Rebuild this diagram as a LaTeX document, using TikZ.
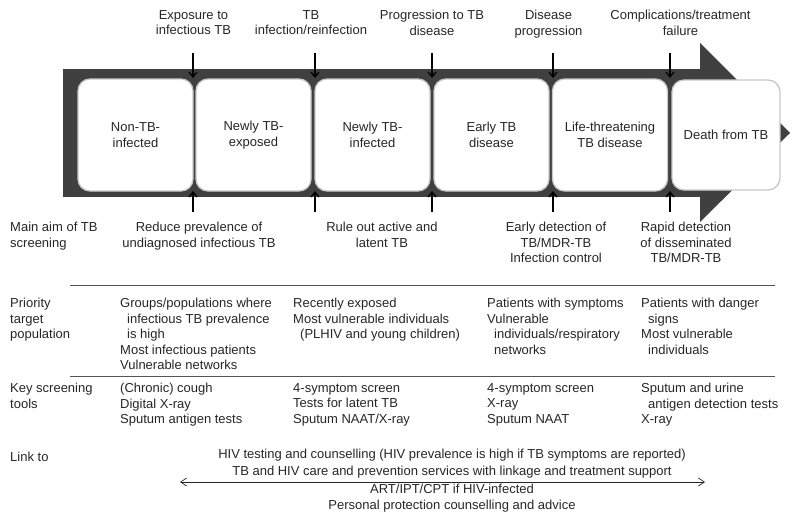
\documentclass[tikz,border=0pt]{standalone}
\usepackage{fontspec}
\setmainfont{Liberation Sans}
\usetikzlibrary{arrows.meta}
\definecolor{band}{HTML}{404040}
\definecolor{ink}{HTML}{262626}
\definecolor{rulec}{HTML}{555555}
\definecolor{boxline}{HTML}{C8C8C8}
\begin{document}
\begin{tikzpicture}[x=1pt,y=-1pt,
  every node/.style={font=\fontsize{13}{15.5}\selectfont, text=ink, inner sep=0pt},
  stage/.style={draw=boxline, line width=1.3pt, fill=white, rounded corners=12pt, align=center,
    minimum width=115pt, minimum height=112pt},
  lbl/.style={align=center, anchor=north, execute at begin node=\strut},
  lft/.style={align=left, anchor=north west, execute at begin node=\strut},
  arr/.style={-{Straight Barb[length=5pt,width=8pt]}, line width=1.3pt, draw=black},
  rulel/.style={draw=rulec, line width=0.8pt},
  dbl/.style={{Straight Barb[length=6pt,width=8pt]}-{Straight Barb[length=6pt,width=8pt]}, line width=0.7pt, draw=ink}
]
\useasboundingbox (0,0) rectangle (800,520);

% big arrow band
\fill[band] (63,69) rectangle (701,197);
\fill[band] (700,43) -- (790,133) -- (700,222) -- cycle;

% stage boxes
\node[stage] (b1) at (135.5,135) {Non-TB-\\infected};
\node[stage] (b2) at (253.5,135) {Newly TB-\\exposed};
\node[stage] (b3) at (372.5,135) {Newly TB-\\infected};
\node[stage] (b4) at (491.5,135) {Early TB\\disease};
\node[stage] (b5) at (610,135) {Life-threatening\\TB disease};
\node[stage, minimum width=108pt, minimum height=110pt] (b6) at (726,135) {Death from TB};

% top labels
\node[lbl] (t1) at (193.5,10) {Exposure to\\infectious TB};
\node[lbl] (t2) at (311,10) {TB\\infection/reinfection};
\node[lbl] (t3) at (432,10) {Progression to TB\\disease};
\node[lbl] (t4) at (548.5,10) {Disease\\progression};
\node[lbl] (t5) at (680.5,10) {Complications/treatment\\failure};

% down arrows
\coordinate (d1s) at (193,53); \coordinate (d1e) at (193,78);
\coordinate (d2s) at (315,53); \coordinate (d2e) at (315,78);
\coordinate (d3s) at (432,53); \coordinate (d3e) at (432,78);
\coordinate (d4s) at (553,53); \coordinate (d4e) at (553,78);
\coordinate (d5s) at (670,53); \coordinate (d5e) at (670,78);
\foreach \i in {1,...,5} {\draw[arr] (d\i s) -- (d\i e);}

% up arrows
\coordinate (u1s) at (193,212); \coordinate (u1e) at (193,191);
\coordinate (u2s) at (315,212); \coordinate (u2e) at (315,191);
\coordinate (u3s) at (432,212); \coordinate (u3e) at (432,191);
\coordinate (u4s) at (553,212); \coordinate (u4e) at (553,191);
\coordinate (u5s) at (670,212); \coordinate (u5e) at (670,191);
\foreach \i in {1,...,5} {\draw[arr] (u\i s) -- (u\i e);}

% main aim row
\node[lft] (h1) at (10,222) {Main aim of TB\\screening};
\node[lbl] (m1) at (199,222) {Reduce prevalence of\\undiagnosed infectious TB};
\node[lbl] (m2) at (382,222) {Rule out active and\\latent TB};
\node[lbl] (m3) at (556,222) {Early detection of\\TB/MDR-TB\\Infection control};
\node[lbl] (m4) at (686,222) {Rapid detection\\of disseminated\\TB/MDR-TB};

\coordinate (r1a) at (70,285); \coordinate (r1b) at (775,285);
\draw[rulel] (r1a) -- (r1b);

% priority target population
\node[lft] (h2) at (10,298) {Priority\\target\\population};
\node[lft] (p1) at (120,298) {Groups/populations where\\\hspace*{7pt}infectious TB prevalence\\\hspace*{7pt}is high\\Most infectious patients\\Vulnerable networks};
\node[lft] (p2) at (293,298) {Recently exposed\\Most vulnerable individuals\\\hspace*{7pt}(PLHIV and young children)};
\node[lft] (p3) at (487,298) {Patients with symptoms\\Vulnerable\\\hspace*{7pt}individuals/respiratory\\\hspace*{7pt}networks};
\node[lft] (p4) at (641,298) {Patients with danger\\\hspace*{7pt}signs\\Most vulnerable\\\hspace*{7pt}individuals};

\coordinate (r2a) at (70,376); \coordinate (r2b) at (775,376);
\draw[rulel] (r2a) -- (r2b);

% key screening tools
\node[lft] (h3) at (10,383) {Key screening\\tools};
\node[lft] (k1) at (120,383) {(Chronic) cough\\Digital X-ray\\Sputum antigen tests};
\node[lft] (k2) at (293,383) {4-symptom screen\\Tests for latent TB\\Sputum NAAT/X-ray};
\node[lft] (k3) at (487,383) {4-symptom screen\\X-ray\\Sputum NAAT};
\node[lft] (k4) at (641,383) {Sputum and urine\\\hspace*{7pt}antigen detection tests\\X-ray};

% link to
\node[lft] (h4) at (10,450) {Link to};
\node[lbl, font=\fontsize{13}{16.3}\selectfont] (l1) at (452,449.3) {HIV testing and counselling (HIV prevalence is high if TB symptoms are reported)\\TB and HIV care and prevention services with linkage and treatment support\\[2pt]ART/IPT/CPT if HIV-infected\\Personal protection counselling and advice};
\coordinate (la) at (180,482); \coordinate (lb) at (705,482);
\draw[dbl] (la) -- (lb);
\end{tikzpicture}
\end{document}
